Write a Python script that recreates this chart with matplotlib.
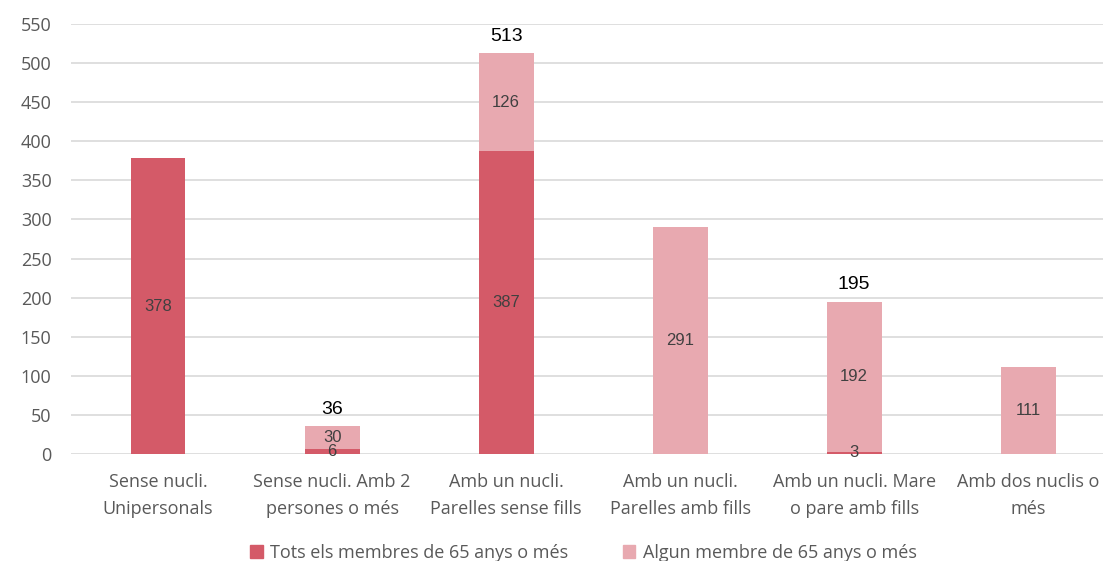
import numpy as np
import matplotlib
matplotlib.use("Agg")
import matplotlib.pyplot as plt
from matplotlib.patches import Patch

categories = [
    "Sense nucli.\nUnipersonals",
    "Sense nucli. Amb 2\npersones o més",
    "Amb un nucli.\nParelles sense fills",
    "Amb un nucli.\nParelles amb fills",
    "Amb un nucli. Mare\no pare amb fills",
    "Amb dos nuclis o\nmés",
]
tots = [378, 6, 387, 0, 3, 0]
algun = [0, 30, 126, 291, 192, 111]
series_names = ["Tots els membres de 65 anys o més", "Algun membre de 65 anys o més"]

C_DARK = "#D45A68"
C_LIGHT = "#E8A9B0"
C_TEXT = "#595959"
C_LABEL = "#404040"

plt.rcParams["font.family"] = ["Open Sans", "DejaVu Sans"]

fig = plt.figure(figsize=(11.05, 5.61), dpi=100)
ax = fig.add_axes([0.0643, 0.1907, 0.934, 0.7665])

x = np.arange(len(categories))
w = 0.315
tots = np.array(tots)
algun = np.array(algun)

ax.bar(x, tots, w, color=C_DARK, zorder=3)
ax.bar(x, algun, w, bottom=tots, color=C_LIGHT, zorder=3)

for i in range(len(x)):
    if tots[i] > 0:
        ax.text(x[i], tots[i] / 2, str(tots[i]), ha="center", va="center",
                fontsize=12, color=C_LABEL, family="Liberation Sans", zorder=4)
    if algun[i] > 0:
        ax.text(x[i], tots[i] + algun[i] / 2, str(algun[i]), ha="center", va="center",
                fontsize=12, color=C_LABEL, family="Liberation Sans", zorder=4)
    if tots[i] > 0 and algun[i] > 0:
        ax.annotate(str(tots[i] + algun[i]), (x[i], tots[i] + algun[i]),
                    xytext=(0, 6), textcoords="offset points", ha="center", va="bottom",
                    fontsize=14, color="black", family="Liberation Sans")

ax.set_ylim(0, 550)
ax.set_yticks(np.arange(0, 551, 50))
ax.set_xlim(-0.5, 5.43)
ax.set_xticks(x)
ax.set_xticklabels(categories, fontsize=13, color=C_TEXT, linespacing=1.6)
ax.tick_params(axis="y", labelsize=13, colors=C_TEXT, length=0, pad=14)
ax.tick_params(axis="x", length=0, pad=14)
ax.grid(axis="y", color="#D9D9D9", lw=1.2, zorder=0)
for s in ax.spines.values():
    s.set_visible(False)

handles = [Patch(color=C_DARK), Patch(color=C_LIGHT)]
fig.legend(handles, series_names, loc="lower center", bbox_to_anchor=(0.528, -0.03),
           ncol=2, frameon=False, fontsize=13, handlelength=0.7, handleheight=0.7,
           handletextpad=0.4, columnspacing=3, labelcolor=C_TEXT)

fig.savefig("out.png", dpi=100)
